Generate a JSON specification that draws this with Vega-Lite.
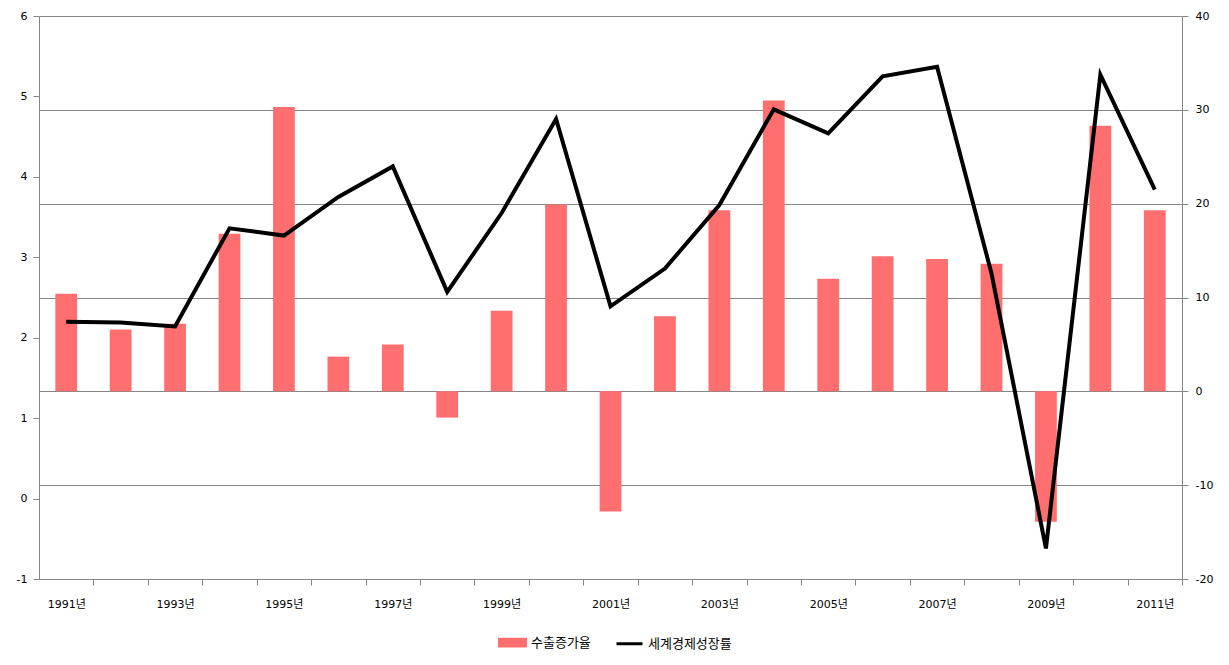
{
  "$schema": "https://vega.github.io/schema/vega-lite/v6.json",
  "autosize": {"type": "none"},
  "width": 1143,
  "height": 563,
  "padding": {"left": 39, "top": 16, "right": 47, "bottom": 86},
  "background": "white",
  "config": {
    "view": {"stroke": null},
    "axis": {
      "domainColor": "#868686",
      "tickColor": "#868686",
      "gridColor": "#868686",
      "gridOpacity": 1,
      "labelColor": "#000000",
      "labelFont": "DejaVu Sans, Noto Sans CJK KR",
      "labelFontSize": 11,
      "tickSize": 6
    }
  },
  "data": {
    "values": [
      {"year": "1991년", "export": 10.4, "world": 2.20},
      {"year": "1992년", "export": 6.6, "world": 2.19},
      {"year": "1993년", "export": 7.2, "world": 2.14},
      {"year": "1994년", "export": 16.8, "world": 3.36},
      {"year": "1995년", "export": 30.3, "world": 3.27},
      {"year": "1996년", "export": 3.7, "world": 3.75},
      {"year": "1997년", "export": 5.0, "world": 4.13},
      {"year": "1998년", "export": -2.8, "world": 2.57},
      {"year": "1999년", "export": 8.6, "world": 3.55},
      {"year": "2000년", "export": 19.9, "world": 4.72},
      {"year": "2001년", "export": -12.8, "world": 2.39},
      {"year": "2002년", "export": 8.0, "world": 2.86},
      {"year": "2003년", "export": 19.3, "world": 3.65},
      {"year": "2004년", "export": 31.0, "world": 4.84},
      {"year": "2005년", "export": 12.0, "world": 4.54},
      {"year": "2006년", "export": 14.4, "world": 5.25},
      {"year": "2007년", "export": 14.1, "world": 5.37},
      {"year": "2008년", "export": 13.6, "world": 2.80},
      {"year": "2009년", "export": -13.9, "world": -0.62},
      {"year": "2010년", "export": 28.3, "world": 5.27},
      {"year": "2011년", "export": 19.3, "world": 3.84}
    ]
  },
  "layer": [
    {
      "mark": {"type": "bar"},
      "encoding": {
        "x": {
          "field": "year",
          "type": "ordinal",
          "sort": null,
          "scale": {"paddingInner": 0.6, "paddingOuter": 0.3},
          "axis": {
            "title": null,
            "labelAngle": 0,
            "tickOffset": 27.2,
            "labelOffset": -27.2,
            "labelPadding": 13,
            "labelExpr": "toNumber(slice(datum.value, 0, 4)) % 2 == 1 ? datum.value : ''",
            "grid": false
          }
        },
        "y": {
          "field": "export",
          "type": "quantitative",
          "scale": {"domain": [-20, 40], "nice": false, "zero": false},
          "axis": {
            "title": null,
            "orient": "right",
            "values": [-20, -10, 0, 10, 20, 30, 40],
            "labelExpr": "datum.value + ''",
            "grid": true,
            "labelPadding": 7
          }
        },
        "color": {
          "datum": "수출증가율",
          "scale": {"domain": ["수출증가율", "세계경제성장률"], "range": ["#FF6F6F", "#000000"]},
          "legend": {
            "orient": "none",
            "legendX": 459,
            "legendY": 612,
            "direction": "horizontal",
            "title": null,
            "padding": 0,
            "symbolSize": 676,
            "labelOffset": 4,
            "columnPadding": 19,
            "labelFont": "Noto Sans CJK KR",
            "labelFontSize": 13,
            "labelColor": "#000000",
            "symbolOpacity": 1,
            "encode": {
              "symbols": {
                "update": {
                  "shape": {"signal": "datum.value === '수출증가율' ? 'M-1,-0.26H1V0.26H-1Z' : 'stroke'"},
                  "fill": {"signal": "datum.value === '수출증가율' ? '#FF6F6F' : 'transparent'"},
                  "stroke": {"signal": "datum.value === '수출증가율' ? 'transparent' : '#000000'"},
                  "strokeWidth": {"value": 3}
                }
              }
            }
          }
        }
      }
    },
    {
      "mark": {"type": "line", "strokeWidth": 4},
      "encoding": {
        "x": {"field": "year", "type": "ordinal", "sort": null},
        "y": {
          "field": "world",
          "type": "quantitative",
          "scale": {"domain": [-1, 6], "nice": false, "zero": false},
          "axis": {
            "title": null,
            "orient": "left",
            "values": [-1, 0, 1, 2, 3, 4, 5, 6],
            "labelExpr": "datum.value + ''",
            "grid": false,
            "labelPadding": 6
          }
        },
        "color": {"datum": "세계경제성장률"}
      }
    }
  ],
  "resolve": {"scale": {"y": "independent"}}
}
